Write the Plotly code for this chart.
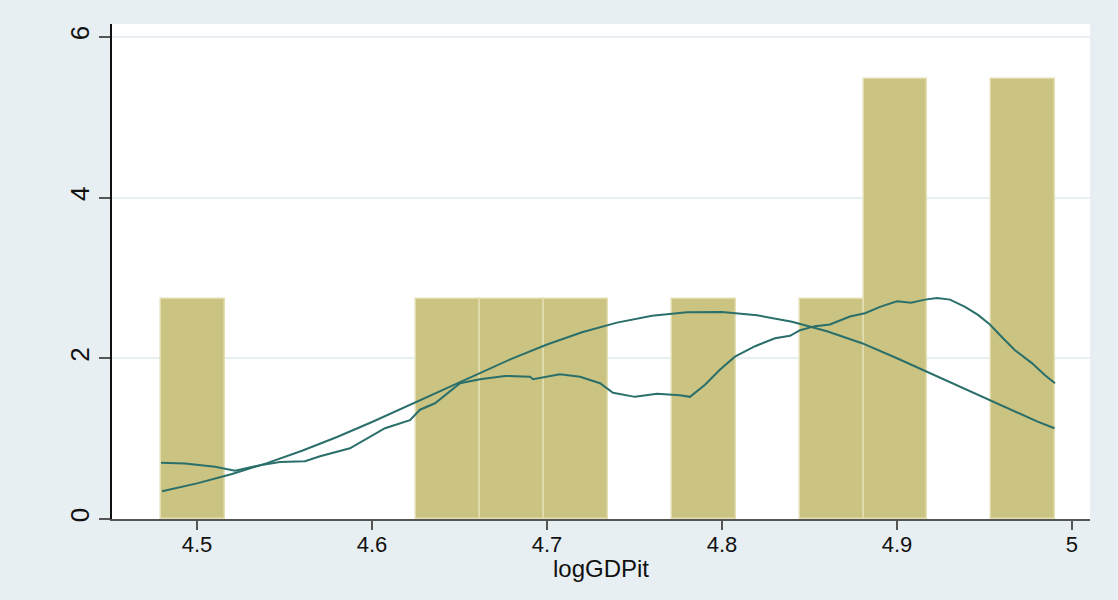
import plotly.graph_objects as go

# Histogram (density) of logGDPit: 14 bins
bin_left = [4.4794, 4.5159, 4.5524, 4.5889, 4.6254, 4.6619, 4.6984,
            4.7349, 4.7714, 4.8079, 4.8444, 4.8809, 4.9174, 4.9539]
bin_width = 0.0365
density = [2.74, 0, 0, 0, 2.74, 2.74, 2.74, 0, 2.74, 0, 2.74, 5.48, 0, 5.48]

# Kernel density estimate
kde_x = [4.4794, 4.4931, 4.5103, 4.5217, 4.5360, 4.5474, 4.5617, 4.5703, 4.5874,
         4.5989, 4.6074, 4.6217, 4.6274, 4.6360, 4.6503, 4.6617, 4.6760, 4.6903,
         4.6920, 4.7074, 4.7189, 4.7303, 4.7377, 4.7503, 4.7629, 4.7760, 4.7817,
         4.7903, 4.7989, 4.8074, 4.8189, 4.8303, 4.8389, 4.8446, 4.8531, 4.8617,
         4.8731, 4.8817, 4.8903, 4.9000, 4.9080, 4.9160, 4.9229, 4.9303, 4.9389,
         4.9463, 4.9531, 4.9606, 4.9674, 4.9771, 4.9846, 4.9903]
kde_y = [0.70, 0.69, 0.65, 0.60, 0.67, 0.71, 0.72, 0.78, 0.88,
         1.02, 1.13, 1.23, 1.36, 1.44, 1.69, 1.74, 1.78, 1.77,
         1.74, 1.80, 1.77, 1.69, 1.57, 1.52, 1.56, 1.54, 1.52,
         1.67, 1.86, 2.02, 2.15, 2.25, 2.28, 2.35, 2.40, 2.42,
         2.52, 2.56, 2.64, 2.71, 2.69, 2.73, 2.75, 2.73, 2.64,
         2.54, 2.42, 2.25, 2.10, 1.94, 1.79, 1.69]

# Normal density overlay
norm_x = [4.48, 4.50, 4.52, 4.54, 4.56, 4.58, 4.60, 4.62, 4.64, 4.66, 4.68, 4.70,
          4.72, 4.74, 4.76, 4.78, 4.80, 4.82, 4.84, 4.86, 4.88, 4.90, 4.92, 4.94,
          4.96, 4.98, 4.99]
norm_y = [0.345, 0.443, 0.560, 0.695, 0.850, 1.021, 1.207, 1.404, 1.605, 1.805,
          1.996, 2.172, 2.323, 2.444, 2.529, 2.574, 2.576, 2.535, 2.454, 2.337,
          2.188, 2.000, 1.805, 1.605, 1.405, 1.215, 1.130]

x_ticks = [4.5, 4.6, 4.7, 4.8, 4.9, 5]
x_ticklabels = ["4.5", "4.6", "4.7", "4.8", "4.9", "5"]
y_ticks = [0, 2, 4, 6]
x_title = "logGDPit"

# only non-empty bins are drawn
bar_x = [b + bin_width / 2 for b, d in zip(bin_left, density) if d > 0]
bar_y = [d for d in density if d > 0]

line_color = "#2a6f6a"
font_family = "Liberation Sans, Arial, sans-serif"

fig = go.Figure()
fig.add_trace(go.Bar(
    x=bar_x, y=bar_y, width=bin_width,
    marker=dict(color="#cbc382", line=dict(color="#e2deb2", width=1.5)),
    hoverinfo="skip", showlegend=False,
))
fig.add_trace(go.Scatter(
    x=kde_x, y=kde_y, mode="lines",
    line=dict(color=line_color, width=2), showlegend=False,
))
fig.add_trace(go.Scatter(
    x=norm_x, y=norm_y, mode="lines",
    line=dict(color=line_color, width=2), showlegend=False,
))

fig.update_layout(
    width=1118, height=600,
    margin=dict(l=112, r=28, t=24, b=81),
    paper_bgcolor="#e8eff2",
    plot_bgcolor="white",
    font=dict(family=font_family, size=23, color="#111111"),
    bargap=0,
)
fig.add_annotation(
    text=x_title, xref="paper", yref="paper", x=0.5, y=-34 / 495,
    xanchor="center", yanchor="top", showarrow=False,
    font=dict(size=24, color="#111111"),
)
fig.update_xaxes(
    range=[4.4514, 5.0103], automargin=False,
    tickvals=x_ticks, ticktext=x_ticklabels,
    tickfont=dict(size=22), ticklabelstandoff=-4,
    ticks="outside", ticklen=9, tickwidth=1.5, tickcolor="#555555",
    showline=True, linecolor="#555555", linewidth=1.5,
    showgrid=False, zeroline=False,
)
fig.update_yaxes(
    range=[0, 6.16], automargin=False,
    tickvals=y_ticks, tickangle=-90, tickfont=dict(size=26),
    ticks="outside", ticklen=11, tickwidth=1.5, tickcolor="#555555",
    showline=True, linecolor="#111111", linewidth=1.5,
    showgrid=True, gridcolor="#e8eff2", gridwidth=1.5,
    zeroline=False,
)

fig.write_html("out.html", config={"displayModeBar": False},
               post_script="document.body.style.margin='0';")
